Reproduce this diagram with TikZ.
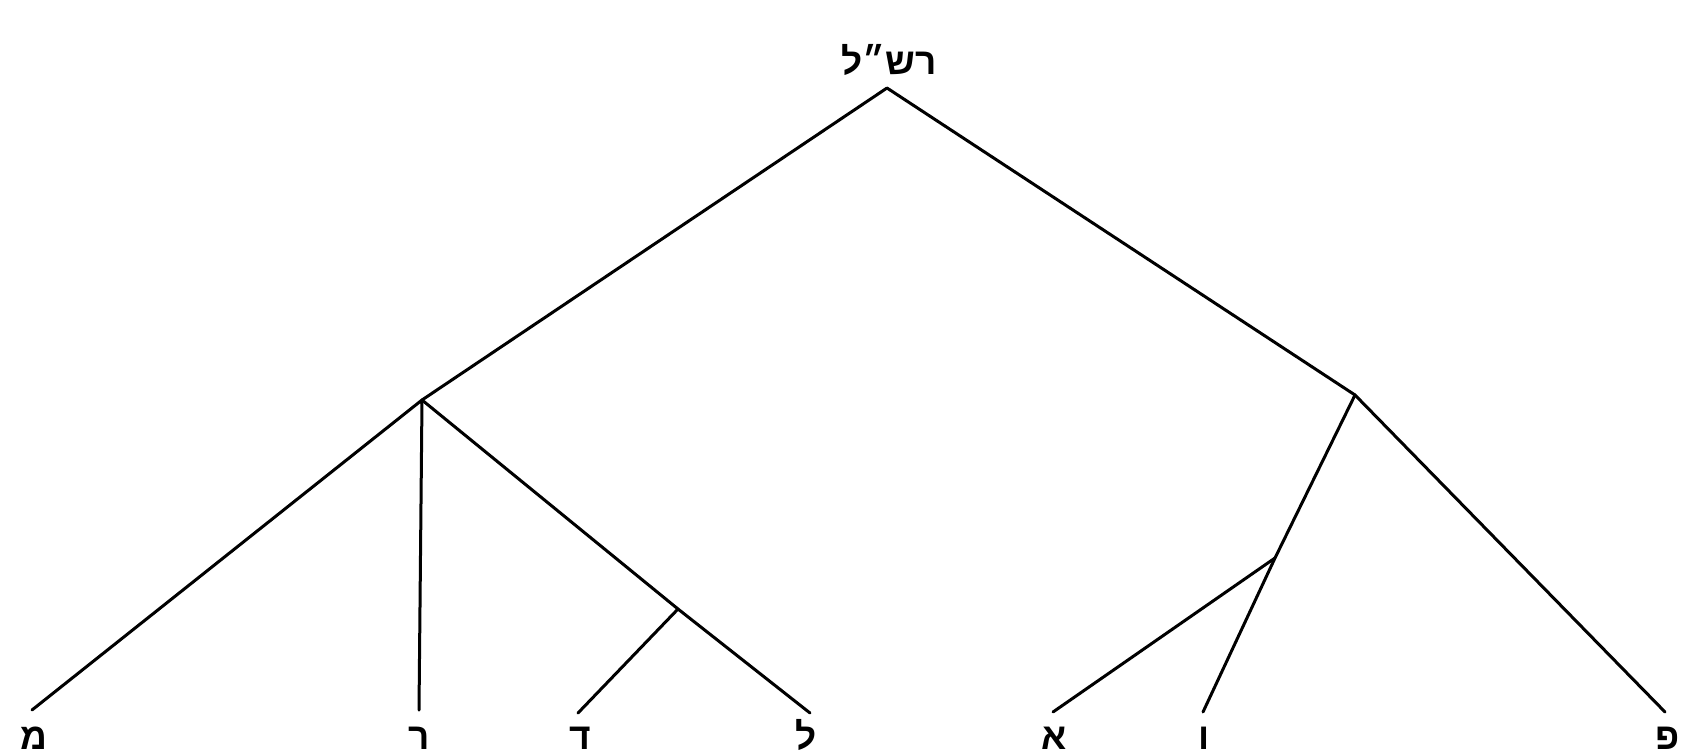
\documentclass[tikz,border=0pt]{standalone}
\usepackage{fontspec}
\TeXXeTstate=1
\newfontfamily\heb[Script=Hebrew]{Liberation Sans}
\begin{document}
\begin{tikzpicture}[x=1pt,y=-1pt,
  edge/.style={line width=3pt,line cap=round,line join=round},
  lbl/.style={font=\heb\bfseries\fontsize{37}{40}\selectfont,inner sep=0pt,anchor=base}]
\useasboundingbox (0,0) rectangle (1683,755);
% junctions
\coordinate (A) at (887,88);
\coordinate (L1) at (422,400);
\coordinate (R1) at (1355,395);
\coordinate (L2) at (678,609);
\coordinate (R2) at (1275,558);
% leaf ends
\coordinate (eM) at (32,710);
\coordinate (eR) at (419,710);
\coordinate (eD) at (578,713);
\coordinate (eL) at (810,713);
\coordinate (eA) at (1053,712);
\coordinate (eV) at (1203,712);
\coordinate (eP) at (1665,712);
% labels
\node[lbl] (top) at (889,74) {\beginR רש״ל\endR};
\node[lbl] (nM) at (34,749) {מ};
\node[lbl] (nR) at (419,749) {ר};
\node[lbl] (nD) at (580,749) {ד};
\node[lbl] (nL) at (806,749) {ל};
\node[lbl] (nA) at (1054,749) {א};
\node[lbl] (nV) at (1204,749) {ו};
\node[lbl] (nP) at (1668,749) {פ};
% edges
\draw[edge] (L1) -- (A) -- (R1);
\draw[edge] (eM) -- (L1) -- (eR);
\draw[edge] (L1) -- (L2) -- (eL);
\draw[edge] (L2) -- (eD);
\draw[edge] (R1) -- (R2) -- (eV);
\draw[edge] (R2) -- (eA);
\draw[edge] (R1) -- (eP);
\end{tikzpicture}
\end{document}
